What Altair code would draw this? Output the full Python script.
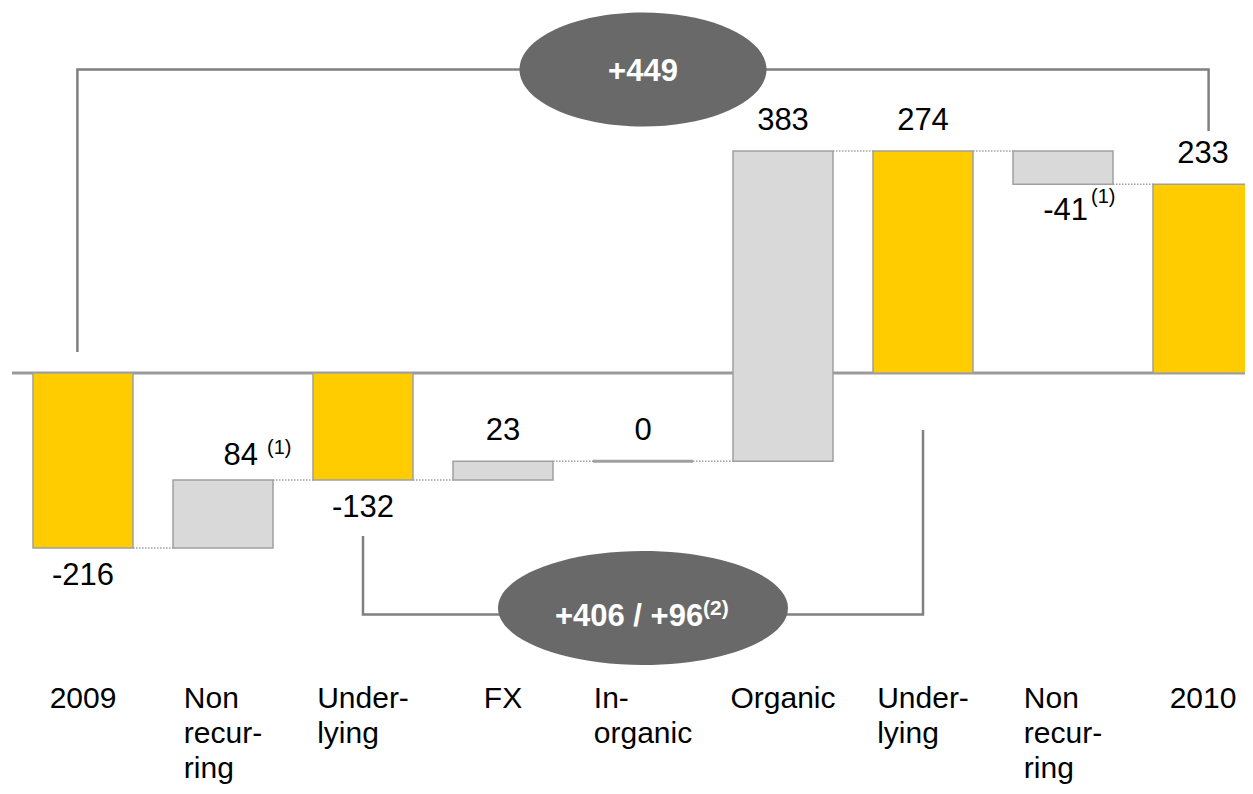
import altair as alt
import pandas as pd

# ---------------- data ----------------
categories = ["2009", "Non recurring", "Underlying", "FX", "In-organic",
              "Organic", "Underlying", "Non recurring", "2010"]
axis_labels = ["2009", "Non\nrecur-\nring", "Under-\nlying", "FX", "In-\norganic",
               "Organic", "Under-\nlying", "Non\nrecur-\nring", "2010"]
values = [-216, 84, -132, 23, 0, 383, 274, -41, 233]
kinds = ["total", "delta", "total", "delta", "delta", "delta", "total", "delta", "total"]
footnotes = ["", "(1)", "", "", "", "", "", "(1)", ""]
total_change = "+449"
underlying_change = "+406 / +96"
underlying_note = "(2)"

# ---------------- layout (pixels) ----------------
W, H = 1237, 778          # svg = plot area (padding 0)
STEP = 140.0              # px between category centres
X0 = 75.0                 # px of first category centre
K = 0.81                  # px per unit
Y0 = 365.0                # px of zero
HALF = 50.0 / STEP        # half bar width in category units
FS = 31                   # value-label font size
FSC = 30                  # category-label font size
x_dom = [-X0 / STEP, (W - X0) / STEP]
y_dom = [-(H - Y0) / K, Y0 / K]
xs = alt.Scale(domain=x_dom, nice=False, zero=False)
ys = alt.Scale(domain=y_dom, nice=False, zero=False)

def page_y(py):
    """page pixel y -> data value"""
    return (Y0 + 8 - py) / K

FONT = "Arial, Liberation Sans, sans-serif"
YELLOW = "#FFCC00"
LGREY = "#D9D9D9"
EDGE = "#A0A0A0"
DARK = "#696969"
LINE = "#808080"

# approximate Arial advance widths (em) to centre left-aligned label blocks
CW = {c: 0.556 for c in "0123456789aegnodu"}
CW.update({"N": .722, "U": .722, "O": .778, "F": .611, "X": .667, "I": .278,
           "r": .333, "-": .333, "c": .5, "y": .5, "i": .222, "l": .222, " ": .278})

def text_w(s, fs):
    return sum(CW.get(ch, .556) for ch in s) * fs

# ---------------- derived tables ----------------
rows = []
level = 0
for i, (c, v, k) in enumerate(zip(categories, values, kinds)):
    if k == "total":
        s, e = 0, v
    else:
        s, e = level, level + v
    level = e
    above = v >= 0
    block = max(text_w(line, FSC) for line in axis_labels[i].split("\n"))
    rows.append(dict(idx=i, cat=c, start=s, end=e, kind=k, txt=str(v),
                     above=above, ly=max(s, e) if above else min(s, e),
                     fn=footnotes[i], lab=axis_labels[i],
                     labx=i - block / 2 / STEP))
df = pd.DataFrame(rows)

conn = pd.DataFrame([dict(a=r["idx"] + HALF, b=r["idx"] + 1 - HALF, y=r["end"])
                     for r in rows[:-1]])

def X(f):
    return alt.X(f, type="quantitative", scale=xs, axis=None)

def Y(f):
    return alt.Y(f, type="quantitative", scale=ys, axis=None)

base = alt.Chart(df)

zero_line = alt.Chart(pd.DataFrame({"y": [0]})).mark_rule(
    color="#9A9A9A", strokeWidth=3).encode(
    y=Y("y"), x=alt.value(4), x2=alt.value(W))

bars = base.transform_calculate(
    xl=f"datum.idx - {HALF}", xr=f"datum.idx + {HALF}"
).mark_bar(stroke=EDGE, strokeWidth=1.5).encode(
    x=X("xl"), x2="xr:Q", y=Y("start"), y2="end:Q",
    color=alt.Color("kind:N", scale=alt.Scale(domain=["total", "delta"],
                                              range=[YELLOW, LGREY]), legend=None))

flat = base.transform_filter("datum.start == datum.end").transform_calculate(
    xl=f"datum.idx - {HALF}", xr=f"datum.idx + {HALF}"
).mark_rule(color=EDGE, strokeWidth=3).encode(x=X("xl"), x2="xr:Q", y=Y("end"))

connectors = alt.Chart(conn).mark_rule(
    color=EDGE, strokeWidth=1.5, strokeDash=[1.5, 1.5]).encode(
    x=X("a"), x2="b:Q", y=Y("y"))

plain = "datum.fn == ''"
lab_above = base.transform_filter(f"{plain} && datum.above").mark_text(
    font=FONT, fontSize=FS, color="black", baseline="middle", dy=-30).encode(
    x=X("idx"), y=Y("ly"), text="txt:N")
lab_below = base.transform_filter(f"{plain} && !datum.above").mark_text(
    font=FONT, fontSize=FS, color="black", baseline="middle", dy=28).encode(
    x=X("idx"), y=Y("ly"), text="txt:N")

# labels carrying a footnote: number right-aligned, note raised after it
noted = "datum.fn != ''"
nlab_above = base.transform_filter(f"{noted} && datum.above").mark_text(
    font=FONT, fontSize=FS, color="black", baseline="middle", align="right",
    dx=35, dy=-24).encode(x=X("idx"), y=Y("ly"), text="txt:N")
nfn_above = base.transform_filter(f"{noted} && datum.above").mark_text(
    font=FONT, fontSize=20, color="black", baseline="middle", align="left",
    dx=44, dy=-32).encode(x=X("idx"), y=Y("ly"), text="fn:N")
nlab_below = base.transform_filter(f"{noted} && !datum.above").mark_text(
    font=FONT, fontSize=FS, color="black", baseline="middle", align="right",
    dx=25, dy=27).encode(x=X("idx"), y=Y("ly"), text="txt:N")
nfn_below = base.transform_filter(f"{noted} && !datum.above").mark_text(
    font=FONT, fontSize=20, color="black", baseline="middle", align="left",
    dx=28, dy=13).encode(x=X("idx"), y=Y("ly"), text="fn:N")

cat_labels = base.transform_calculate(ly=f"{page_y(684)}").mark_text(
    font=FONT, fontSize=FSC, color="black", align="left", baseline="top",
    lineBreak="\n", lineHeight=35).encode(
    x=X("labx"), y=Y("ly"), text="lab:N")

# brackets
top_y, bot_y = page_y(69.5), page_y(614.5)
brk = pd.DataFrame([
    dict(b="top", o=0, x=-0.04, y=page_y(352)), dict(b="top", o=1, x=-0.04, y=top_y),
    dict(b="top", o=2, x=8.04, y=top_y), dict(b="top", o=3, x=8.04, y=page_y(131)),
    dict(b="bot", o=0, x=2.0, y=page_y(536)), dict(b="bot", o=1, x=2.0, y=bot_y),
    dict(b="bot", o=2, x=6.0, y=bot_y), dict(b="bot", o=3, x=6.0, y=page_y(430)),
])
brackets = alt.Chart(brk).mark_line(color=LINE, strokeWidth=2.5).encode(
    x=X("x"), y=Y("y"), detail="b:N", order="o:Q")

def ellipse_path(r):
    k = 0.5523
    return (f"M -1 0 C -1 {-r*k:.4f} {-k:.4f} {-r:.4f} 0 {-r:.4f} "
            f"C {k:.4f} {-r:.4f} 1 {-r*k:.4f} 1 0 "
            f"C 1 {r*k:.4f} {k:.4f} {r:.4f} 0 {r:.4f} "
            f"C {-k:.4f} {r:.4f} -1 {r*k:.4f} -1 0 Z")

ell_top_df = pd.DataFrame([dict(x=4.0, y=top_y, t=total_change)])
ell_bot_df = pd.DataFrame([dict(x=4.0, y=page_y(608), ty=bot_y,
                                t=underlying_change, n=underlying_note)])

ell_top = alt.Chart(ell_top_df).mark_point(
    shape=ellipse_path(57 / 123.5), size=247 ** 2, filled=True, opacity=1,
    color=DARK, strokeWidth=0).encode(x=X("x"), y=Y("y"))
ell_top_t = alt.Chart(ell_top_df).mark_text(
    font=FONT, fontSize=FS, fontWeight="bold", color="white", baseline="middle",
    dy=2).encode(x=X("x"), y=Y("y"), text="t:N")

ell_bot = alt.Chart(ell_bot_df).mark_point(
    shape=ellipse_path(57 / 145), size=290 ** 2, filled=True, opacity=1,
    color=DARK, strokeWidth=0).encode(x=X("x"), y=Y("y"))
ell_bot_t = alt.Chart(ell_bot_df).mark_text(
    font=FONT, fontSize=FS, fontWeight="bold", color="white", baseline="middle",
    dx=-14, dy=2).encode(x=X("x"), y=Y("ty"), text="t:N")
ell_bot_n = alt.Chart(ell_bot_df).mark_text(
    font=FONT, fontSize=21, fontWeight="bold", color="white", baseline="middle",
    align="left", dx=60, dy=-6).encode(x=X("x"), y=Y("ty"), text="n:N")

chart = alt.layer(
    zero_line, brackets, bars, flat, connectors,
    lab_above, lab_below, nlab_above, nfn_above, nlab_below, nfn_below, cat_labels,
    ell_top, ell_top_t, ell_bot, ell_bot_t, ell_bot_n
).properties(
    width=W, height=H, padding=0, autosize=alt.AutoSizeParams(type="none")
).configure_view(stroke=None)

chart.save("out.html", embed_options={"renderer": "svg", "actions": False})
